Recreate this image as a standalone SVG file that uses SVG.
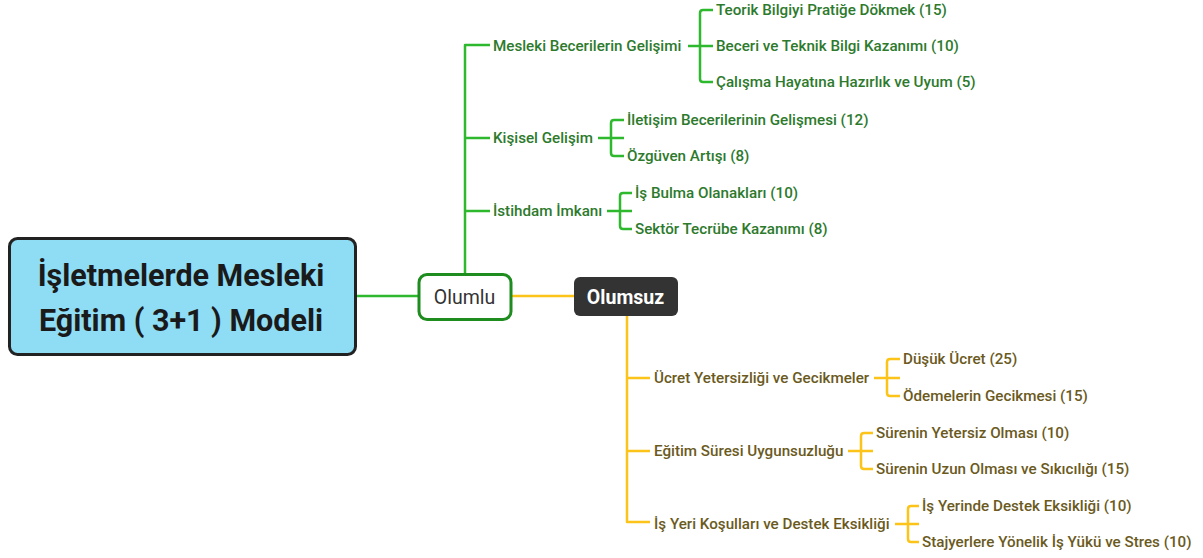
<svg xmlns="http://www.w3.org/2000/svg" width="1203" height="558" viewBox="0 0 1203 558">
<style>
.g{fill:none;stroke:#2eb82e;stroke-width:2.5;stroke-linejoin:round}
.y{fill:none;stroke:#fcc419;stroke-width:2.5;stroke-linejoin:round}
.tg{font-family:Roboto,"Liberation Sans",sans-serif;font-size:15.2px;font-weight:500;fill:#2d7a2d;dominant-baseline:central}
.ty{font-family:Roboto,"Liberation Sans",sans-serif;font-size:15.2px;font-weight:500;fill:#6b5a1e;dominant-baseline:central}
</style>
<rect width="1203" height="558" fill="#ffffff"/>
<g id="connectors">
<path class="g" d="M356 296H418"/>
<path class="y" d="M511 296H574"/>
<path class="g" d="M465 274V45H490M465 138H490M465 211H490"/>
<path class="g" d="M688 46H713M713 10H703Q700 10 700 13V79Q700 82 703 82H713"/>
<path class="g" d="M598 138H624M624 120H614Q611 120 611 123V153Q611 156 614 156H624"/>
<path class="g" d="M607 211H632M632 193H623Q620 193 620 196V226Q620 229 623 229H632"/>
<path class="y" d="M627 316V522H650M627 378H650M627 451H650"/>
<path class="y" d="M874 378H900M900 359H890Q887 359 887 362V393Q887 396 890 396H900"/>
<path class="y" d="M848 451H873M873 433H864Q861 433 861 436V466Q861 469 864 469H873"/>
<path class="y" d="M895 524H919M919 506H911Q908 506 908 509V539Q908 542 911 542H919"/>
</g>
<g id="root">
<rect x="9.5" y="238.5" width="346" height="116" rx="8" fill="#8fdcf5" stroke="#222" stroke-width="3"/>
<text x="181" y="286" text-anchor="middle" font-family="Roboto,'Liberation Sans',sans-serif" font-size="30.5" font-weight="bold" fill="#1a1a1a">İşletmelerde Mesleki</text>
<text x="181" y="331" text-anchor="middle" font-family="Roboto,'Liberation Sans',sans-serif" font-size="30.5" font-weight="bold" fill="#1a1a1a">Eğitim ( 3+1 ) Modeli</text>
</g>
<g id="olumlu">
<rect x="419" y="274.5" width="92" height="45" rx="8" fill="#fff" stroke="#1f8c1f" stroke-width="3"/>
<text x="464.5" y="297" text-anchor="middle" dominant-baseline="central" font-family="Roboto,'Liberation Sans',sans-serif" font-size="19.5" fill="#333">Olumlu</text>
</g>
<g id="olumsuz">
<rect x="574" y="277" width="104" height="39" rx="6" fill="#333"/>
<text x="625.5" y="297" text-anchor="middle" dominant-baseline="central" font-family="Roboto,'Liberation Sans',sans-serif" font-size="19.5" font-weight="bold" fill="#fff">Olumsuz</text>
</g>
<g id="mesleki"><text class="tg" x="493" y="46">Mesleki Becerilerin Gelişimi</text></g>
<g id="teorik"><text class="tg" x="716" y="10">Teorik Bilgiyi Pratiğe Dökmek (15)</text></g>
<g id="beceri"><text class="tg" x="716" y="46">Beceri ve Teknik Bilgi Kazanımı (10)</text></g>
<g id="calisma"><text class="tg" x="716" y="82">Çalışma Hayatına Hazırlık ve Uyum (5)</text></g>
<g id="kisisel"><text class="tg" x="493" y="138">Kişisel Gelişim</text></g>
<g id="iletisim"><text class="tg" x="627" y="120">İletişim Becerilerinin Gelişmesi (12)</text></g>
<g id="ozguven"><text class="tg" x="627" y="156">Özgüven Artışı (8)</text></g>
<g id="istihdam"><text class="tg" x="493" y="211">İstihdam İmkanı</text></g>
<g id="isbulma"><text class="tg" x="635" y="193">İş Bulma Olanakları (10)</text></g>
<g id="sektor"><text class="tg" x="635" y="229">Sektör Tecrübe Kazanımı (8)</text></g>
<g id="ucret"><text class="ty" x="654" y="378">Ücret Yetersizliği ve Gecikmeler</text></g>
<g id="dusuk"><text class="ty" x="903" y="359">Düşük Ücret (25)</text></g>
<g id="odeme"><text class="ty" x="903" y="396">Ödemelerin Gecikmesi (15)</text></g>
<g id="egitim"><text class="ty" x="654" y="451">Eğitim Süresi Uygunsuzluğu</text></g>
<g id="yetersiz"><text class="ty" x="876" y="433">Sürenin Yetersiz Olması (10)</text></g>
<g id="uzun"><text class="ty" x="876" y="469">Sürenin Uzun Olması ve Sıkıcılığı (15)</text></g>
<g id="isyeri"><text class="ty" x="654" y="524">İş Yeri Koşulları ve Destek Eksikliği</text></g>
<g id="destek"><text class="ty" x="922" y="506">İş Yerinde Destek Eksikliği (10)</text></g>
<g id="stajyer"><text class="ty" x="922" y="542">Stajyerlere Yönelik İş Yükü ve Stres (10)</text></g>
</svg>
